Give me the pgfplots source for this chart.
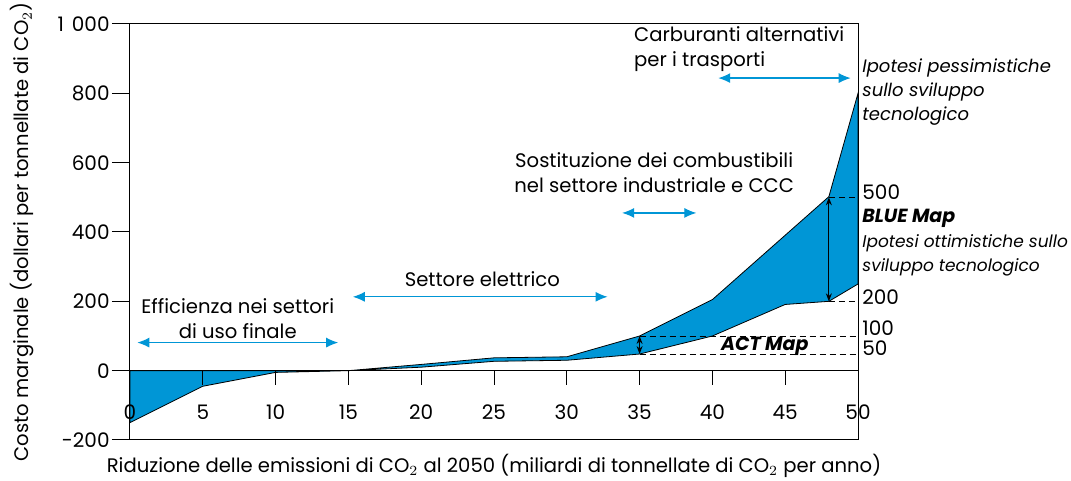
\documentclass[border=0pt]{standalone}
\usepackage{fontspec}
\setmainfont{Poppins}
\usepackage{pgfplots}
\pgfplotsset{compat=1.18}
\usetikzlibrary{arrows.meta}
\definecolor{IEABlue}{HTML}{0096D6}
\tikzset{
  barrow/.style={{Latex[length=6pt,width=5pt]}-{Latex[length=6pt,width=5pt]},draw=IEABlue,line width=0.6pt},
  karrow/.style={{Stealth[length=4pt,width=3pt]}-{Stealth[length=4pt,width=3pt]},draw=black,line width=0.5pt},
  lab/.style={font=\fontsize{9.8}{12.5}\selectfont,align=center,inner sep=0pt},
  rlab/.style={font=\fontsize{9}{12}\selectfont\itshape,align=left,anchor=west,inner sep=0pt},
  guide/.style={densely dashed,line width=0.4pt,black}
}

\begin{document}
\begin{tikzpicture}
\useasboundingbox (-65pt,-20.5pt) rectangle (470.5pt,220pt);
\begin{axis}[
  at={(0,0)}, anchor=south west,
  scale only axis, width=364pt, height=208pt,
  xmin=0, xmax=50, ymin=-200, ymax=1000,
  xtick={0,5,...,50},
  ytick={-200,0,...,1000},
  yticklabels={-200,0,200,400,600,800,1\hspace{4pt}000},
  /pgf/number format/assume math mode=true,
  tick align=outside, major tick length=9pt,
  ytick pos=left, xtick pos=bottom,
  xtick style={draw=none},
  ytick style={line width=0.5pt,black},
  tick label style={font=\fontsize{10}{12}\selectfont},
  yticklabel style={inner xsep=1pt},
  xticklabel style={anchor=center,yshift=23pt},
  extra y ticks={0}, extra y tick labels={},
  extra y tick style={grid=major,grid style={black,line width=0.5pt}},
  axis line style={line width=0.5pt},
  axis on top,
  clip=false,
  xlabel={Riduzione delle emissioni di CO$_2$ al 2050 (miliardi di tonnellate di CO$_2$ per anno)},
  ylabel={Costo marginale (dollari per tonnellate di CO$_2$)},
  label style={font=\fontsize{9.8}{12}\selectfont},
  xlabel style={at={(axis description cs:0.5,-0.0625)},anchor=center},
  ylabel style={at={(axis description cs:-0.148,0.5)},anchor=center},
]
% area below zero
\addplot[fill=IEABlue,draw=black,line width=0.4pt]
  coordinates {(0,0) (0,-150) (5,-45) (10,-5) (15,0)} -- cycle;
% band between pessimistic (upper) and optimistic (lower) curves
\addplot[fill=IEABlue,draw=black,line width=0.4pt]
  coordinates {(15,0) (20,18) (25,37) (30,40) (35,100) (40,205) (48,502) (50,800)
               (50,250) (48,200) (45,191) (40,100) (35,48) (30,30) (25,27) (20,10) (15,0)} -- cycle;

% guide lines
\addplot[guide] coordinates {(48,500) (50,500)};
\addplot[guide] coordinates {(48,200) (50,200)};
\addplot[guide] coordinates {(35,100) (50,100)};
\addplot[guide] coordinates {(35,48) (50,48)};

% x ticks hang from the zero line
\pgfplotsinvokeforeach{0,5,...,50}{\draw[line width=0.5pt] (axis cs:#1,0) -- (axis cs:#1,-40);}

\draw[karrow] (axis cs:48,500) -- (axis cs:48,200);
\draw[karrow] (axis cs:35,100) -- (axis cs:35,48);

% sector arrows and texts
\draw[barrow] (axis cs:0.5,81) -- (axis cs:14.3,81);
\node[lab] at (axis cs:7.4,150) {Efficienza nei settori\\di uso finale};
\draw[barrow] (axis cs:15.3,213) -- (axis cs:32.8,213);
\node[lab] at (axis cs:24.2,265) {Settore elettrico};
\draw[barrow] (axis cs:33.8,455) -- (axis cs:38.9,455);
\node[lab] at (axis cs:36,571) {Sostituzione dei combustibili\\nel settore industriale e CCC};
\draw[barrow] (axis cs:40.4,844) -- (axis cs:49.5,844);
\node[lab,align=left,anchor=west] at (axis cs:34.6,928) {Carburanti alternativi\\per i trasporti};

\node[lab,font=\fontsize{9.5}{12}\selectfont\bfseries\itshape] at (axis cs:43.6,69) {ACT Map};

% right-hand annotations
\node[rlab] at ([xshift=2pt]axis cs:50,804) {Ipotesi pessimistiche\\sullo sviluppo\\tecnologico};
\node[rlab,font=\fontsize{10}{12}\selectfont] at ([xshift=2pt]axis cs:50,516) {500};
\node[rlab,font=\fontsize{9.5}{12}\selectfont\bfseries\itshape] at ([xshift=2pt]axis cs:50,438) {BLUE Map};
\node[rlab,font=\fontsize{8.5}{12}\selectfont\itshape] at ([xshift=2pt]axis cs:50,332) {Ipotesi ottimistiche sullo\\sviluppo tecnologico};
\node[rlab,font=\fontsize{10}{12}\selectfont] at ([xshift=2pt]axis cs:50,213) {200};
\node[rlab,font=\fontsize{10}{12}\selectfont] at ([xshift=2pt]axis cs:50,124) {100};
\node[rlab,font=\fontsize{10}{12}\selectfont] at ([xshift=2pt]axis cs:50,66) {50};
\end{axis}
\end{tikzpicture}
\end{document}
